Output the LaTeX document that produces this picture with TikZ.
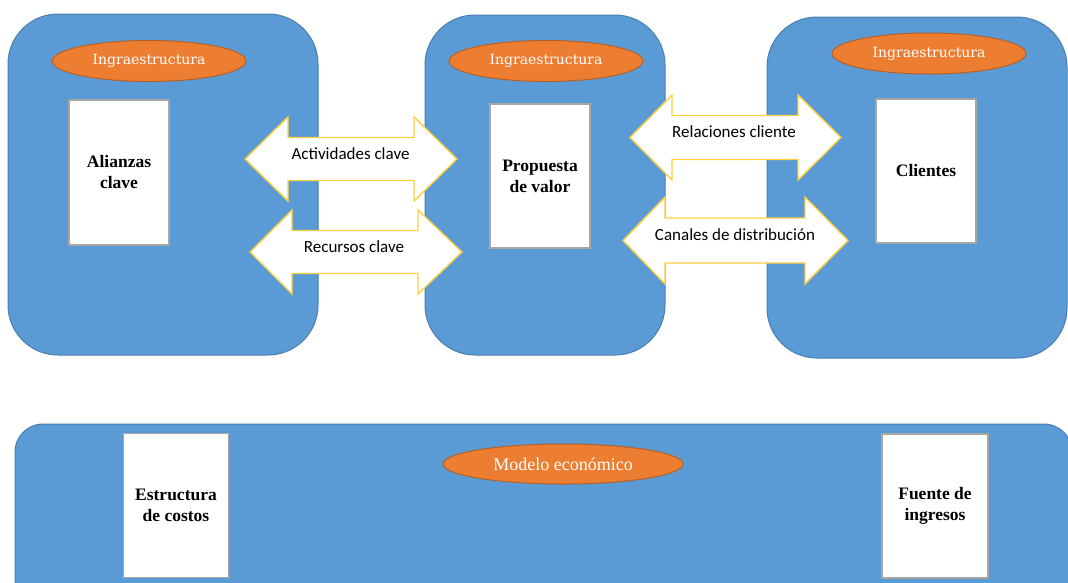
\documentclass[tikz,border=0pt]{standalone}
\usepackage{fontspec}
\setmainfont{Liberation Serif}
\newfontfamily\carl{Carlito}
\newfontfamily\slab{DejaVu Serif}
\usetikzlibrary{shapes.geometric}
\definecolor{boxblue}{HTML}{5B9BD5}
\definecolor{boxedge}{HTML}{4A7EB0}
\definecolor{cardedge}{HTML}{A6A6A6}
\definecolor{ovalfill}{HTML}{ED7D31}
\definecolor{ovaledge}{HTML}{B5612A}
\definecolor{arrowedge}{HTML}{FFCF40}
\newcommand\dblarrowshape[7]{%
  \draw[dbl] (#1,#5) -- (#2,#5-#7) -- (#2,#5-#6) -- (#3,#5-#6) -- (#3,#5-#7) -- (#4,#5)
    -- (#3,#5+#7) -- (#3,#5+#6) -- (#2,#5+#6) -- (#2,#5+#7) -- cycle;}
\begin{document}
\begin{tikzpicture}[x=1pt,y=-1pt,
  bigbox/.style={fill=boxblue,draw=boxedge,line width=1pt,rounded corners=50pt},
  card/.style={fill=white,draw=cardedge,line width=1.2pt,align=center,
    font=\fontsize{17.5}{21}\selectfont\bfseries},
  oval/.style={ellipse,fill=ovalfill,draw=ovaledge,line width=1pt,inner sep=0pt,text=white},
  infra/.style={oval,minimum width=194pt,minimum height=41pt,font=\slab\fontsize{14}{16}\selectfont},
  dbl/.style={fill=white,draw=arrowedge,line width=1.4pt,line join=miter},
  alab/.style={font=\carl\fontsize{17}{19}\selectfont,inner sep=0pt},
]
\useasboundingbox (0,0) rectangle (1068,582);
\begin{scope}
\clip (0,0) rectangle (1068,582);
% big panels
\draw[bigbox] (8,14) rectangle (318,355);
\draw[bigbox] (425,15) rectangle (665,355);
\draw[bigbox] (767,17) rectangle (1067,358);
\draw[bigbox,rounded corners=28pt] (15,424) rectangle (1072,610);
% ovals
\node[infra] (inf1) at (149,61) {Ingraestructura};
\node[infra] (inf2) at (546,61) {Ingraestructura};
\node[infra] (inf3) at (929,53.5) {Ingraestructura};
\node[oval,minimum width=240pt,minimum height=40pt,font=\fontsize{18}{20}\selectfont] (modelo) at (563,464) {Modelo económico};
% cards
\node[card,minimum width=100pt,minimum height=145pt] (alianzas) at (119,172.5) {Alianzas\\clave};
\node[card,minimum width=100pt,minimum height=144pt] (propuesta) at (540,176) {Propuesta\\de valor};
\node[card,minimum width=100pt,minimum height=144pt] (clientes) at (926,171) {Clientes};
\node[card,minimum width=105pt,minimum height=144pt] (costos) at (176,505.5) {Estructura\\de costos};
\node[card,minimum width=106pt,minimum height=144pt] (ingresos) at (935,506) {Fuente de\\ingresos};
% double arrows
\dblarrowshape{245}{288}{414}{457}{159}{21.5}{42}
\dblarrowshape{250}{292}{418}{462}{252}{21.5}{42}
\dblarrowshape{630}{672}{798}{841}{137.5}{22}{42.5}
\dblarrowshape{623}{665}{805}{848}{240.5}{22.5}{43.5}
\node[alab] (act) at (350.5,153.5) {Actividades clave};
\node[alab] (rec) at (354,246.5) {Recursos clave};
\node[alab] (rel) at (734,132) {Relaciones cliente};
\node[alab] (can) at (735,235) {Canales de distribución};
\end{scope}
\end{tikzpicture}
\end{document}
